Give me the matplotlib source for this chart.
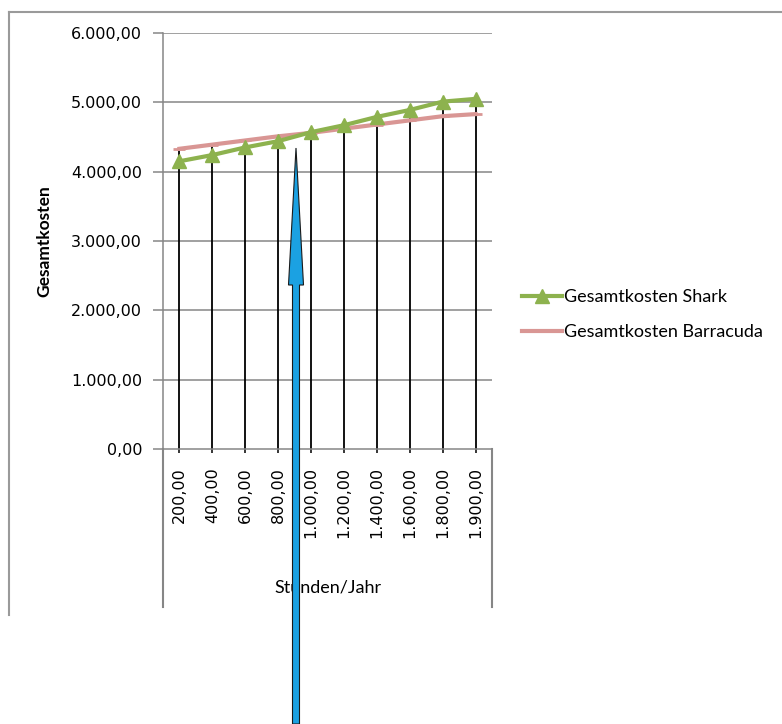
import numpy as np
import matplotlib
matplotlib.use("Agg")
import matplotlib.pyplot as plt
from matplotlib.lines import Line2D
from matplotlib.patches import FancyArrow

# data
stunden = ["200,00", "400,00", "600,00", "800,00", "1.000,00",
           "1.200,00", "1.400,00", "1.600,00", "1.800,00", "1.900,00"]
shark = [4150, 4240, 4350, 4440, 4570, 4670, 4790, 4890, 5010, 5050]
barracuda = [4330, 4390, 4450, 4510, 4560, 4620, 4680, 4740, 4800, 4830]
y_ticks = [0, 1000, 2000, 3000, 4000, 5000, 6000]
y_tick_labels = ["0,00", "1.000,00", "2.000,00", "3.000,00",
                 "4.000,00", "5.000,00", "6.000,00"]

W, H = 782, 724
fig = plt.figure(figsize=(W / 100, H / 100), dpi=100)

def fx(px):
	return px / W

def fy(py):
	return 1 - py / H

ax_left, ax_right, ax_top, ax_bottom = 163, 492, 33, 449
ax = fig.add_axes([fx(ax_left), fy(ax_bottom), fx(ax_right - ax_left), (ax_bottom - ax_top) / H])

x = np.arange(len(stunden))
grid_col = "#868686"

for v in y_ticks[1:]:
	ax.axhline(v, color=grid_col, lw=1.1, zorder=1)

# drop lines from the higher series down to the axis
tops = np.maximum(shark, barracuda)
ax.vlines(x, 0, tops, color="black", lw=1.3, zorder=2)

ax.plot(x, barracuda, color="#D99694", lw=3, marker="_", ms=8, mew=2,
        label="Gesamtkosten Barracuda", zorder=3)
ax.plot(x, shark, color="#8DB24E", lw=3, marker="^", ms=10, mec="#8DB24E",
        label="Gesamtkosten Shark", zorder=4)

ax.set_xlim(-0.5, len(stunden) - 0.5)
ax.set_ylim(0, 6000)
ax.set_yticks(y_ticks)
ax.set_yticklabels(y_tick_labels, fontsize=11.5, family="DejaVu Sans")
ax.set_xticks(x)
ax.set_xticklabels(stunden, rotation=90, fontsize=11.5, family="DejaVu Sans", va="top")
ax.tick_params(axis="y", length=7, width=1.1, color=grid_col, pad=8)
ax.tick_params(axis="x", length=3, width=1.1, color="black", pad=10)

for s in ["top", "right"]:
	ax.spines[s].set_visible(False)
ax.spines["left"].set_color(grid_col)
ax.spines["bottom"].set_color(grid_col)
ax.spines["left"].set_linewidth(1.1)
ax.spines["bottom"].set_linewidth(1.1)

ax.set_ylabel("Gesamtkosten", fontsize=12.5, fontweight="bold", family="Lato")
ax.yaxis.set_label_coords(-(ax_left - 52) / (ax_right - ax_left), 0.5)
ax.set_xlabel("Stunden/Jahr", fontsize=13, family="Lato")
ax.xaxis.set_label_coords(0.5, -(579 - ax_bottom) / (ax_bottom - ax_top))

handles, labels = ax.get_legend_handles_labels()
leg = fig.legend(handles[::-1], labels[::-1], loc="upper left",
                 bbox_to_anchor=(fx(506), fy(273)), frameon=False,
                 prop={"family": "Lato", "size": 13}, handlelength=2.2,
                 handletextpad=0.1, labelspacing=1.05)

# category label box and outer chart frame
box_bottom = 607
for px in [ax_left, ax_right]:
	fig.add_artist(Line2D([fx(px), fx(px)], [fy(ax_bottom), fy(box_bottom)], color=grid_col, lw=1.5))
fig.add_artist(Line2D([fx(9), fx(9)], [fy(12), fy(615)], color="#9a9a9a", lw=1.5))
fig.add_artist(Line2D([fx(9), 1.0], [fy(12), fy(12)], color="#9a9a9a", lw=1.5))

# blue arrow
arrow = FancyArrow(fx(296), fy(724), 0, (724 - 148) / H, width=7 / W,
                   head_width=15 / W, head_length=(285 - 148) / H,
                   length_includes_head=True, transform=fig.transFigure,
                   facecolor="#1BA1E2", edgecolor="#1a1a1a", lw=0.8, zorder=10)
fig.add_artist(arrow)

fig.savefig("out.png", dpi=100)
